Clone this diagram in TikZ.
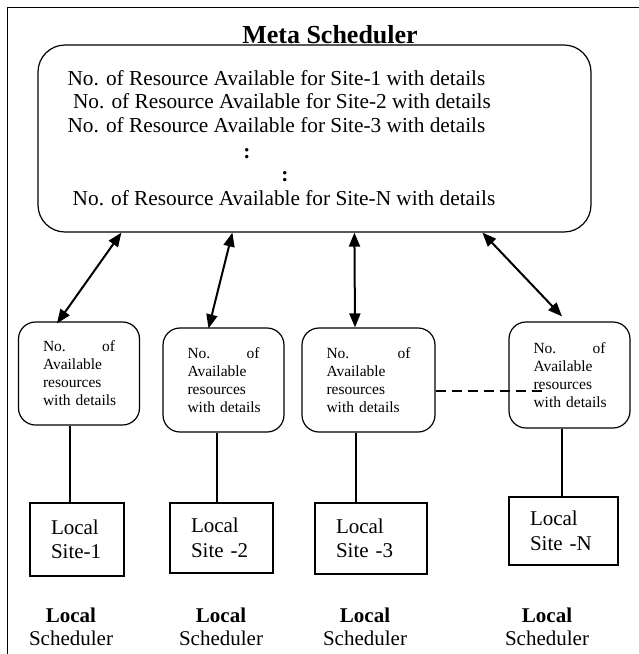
\documentclass[tikz,border=0pt]{standalone}
\usepackage{fontspec}
\setmainfont{Liberation Serif}
\usepackage{tikz}
\usetikzlibrary{arrows.meta,positioning}
\tikzset{>={Triangle[length=14pt,width=11pt]}}

\begin{document}
\begin{tikzpicture}[x=1pt,y=-1pt,
              bigbox/.style={draw, line width=1.2pt, rounded corners=27pt, minimum width=553pt, minimum height=187pt},
              resbox/.style={draw, line width=1.2pt, rounded corners=17pt, inner xsep=24.5pt, align=left, font=\fontsize{15.5}{18}\selectfont},
              sitebox/.style={draw, line width=1.2pt, inner xsep=21pt, align=left, font=\fontsize{21}{24.5}\selectfont},
              metatext/.style={anchor=base, inner sep=0pt, font=\fontsize{21.3}{24}\selectfont},
              schedtext/.style={align=center, font=\fontsize{21}{23}\selectfont},
              biarrow/.style={line width=2pt, <->},
              mydash/.style={line width=1.8pt, dash pattern=on 10pt off 6pt},
             ]
\useasboundingbox (0,0) rectangle (639,654);
\draw[line width=0.9pt] (7.5,654) -- (7.5,7) -- (639,7);

\node[bigbox] (meta) at (314.5,138.5) {};
\node[anchor=base, inner sep=0pt, font=\fontsize{26}{30}\selectfont\bfseries] (title) at (330,43) {Meta Scheduler};
\node[metatext] (l1) at (276.5,85) {No. of Resource Available for Site-1 with details};
\node[metatext] (l2) at (282,108) {No. of Resource Available for Site-2 with details};
\node[metatext] (l3) at (276.5,132) {No. of Resource Available for Site-3 with details};
\node[metatext] (d1) at (247,158) {\textbf{:}};
\node[metatext] (d2) at (285,181) {\textbf{:}};
\node[metatext] (lN) at (284,205) {No. of Resource Available for Site-N with details};

\node[resbox, text width=72pt, minimum height=103pt] (res1) at (79,373.5) {No.\hfill of\\Available\\resources\\\mbox{with details}};
\node[resbox, text width=72pt, minimum height=104pt] (res2) at (223.5,380) {No.\hfill of\\Available\\resources\\\mbox{with details}};
\node[resbox, text width=84pt, minimum height=104pt] (res3) at (368.5,380) {No.\hfill of\\Available\\resources\\\mbox{with details}};
\node[resbox, text width=72pt, minimum height=106pt] (res4) at (569.5,375) {No.\hfill of\\Available\\resources\\\mbox{with details}};

\draw[biarrow] ([xshift=84pt]meta.south west) -- ([xshift=-22pt,yshift=-2pt]res1.north);
\draw[biarrow] ([xshift=195pt]meta.south west) -- ([xshift=-15pt,yshift=-1pt]res2.north);
\draw[biarrow] ([xshift=317pt]meta.south west) -- ([xshift=-13.5pt]res3.north);
\draw[biarrow] ([xshift=445pt]meta.south west) -- ([xshift=-7.5pt,yshift=5pt]res4.north);

\coordinate (dashend) at (547,391);
\draw[mydash] (res3.east |- dashend) -- (dashend);

\node[sitebox, text width=52pt, minimum height=73pt] (site1) at (77,539.5) {Local\\Site-1};
\node[sitebox, text width=61pt, minimum height=70pt] (site2) at (221.5,538) {Local\\Site -2};
\node[sitebox, text width=70pt, minimum height=71pt] (site3) at (371,538.5) {Local\\Site -3};
\node[sitebox, text width=67pt, minimum height=68pt] (site4) at (563.5,531) {Local\\Site -N};

\draw[line width=1.2pt] ([xshift=-9pt]res1.south) -- ([xshift=-9pt]res1.south |- site1.north);
\draw[line width=1.2pt] ([xshift=-6.5pt]res2.south) -- ([xshift=-6.5pt]res2.south |- site2.north);
\draw[line width=1.2pt] ([xshift=-12.5pt]res3.south) -- ([xshift=-12.5pt]res3.south |- site3.north);
\draw[line width=1.2pt] ([xshift=-7.5pt]res4.south) -- ([xshift=-7.5pt]res4.south |- site4.north);

\node[schedtext] (sched1) at (71,627) {\textbf{Local}\\Scheduler};
\node[schedtext] (sched2) at (221,627) {\textbf{Local}\\Scheduler};
\node[schedtext] (sched3) at (365,627) {\textbf{Local}\\Scheduler};
\node[schedtext] (sched4) at (547,627) {\textbf{Local}\\Scheduler};
\end{tikzpicture}
\end{document}
